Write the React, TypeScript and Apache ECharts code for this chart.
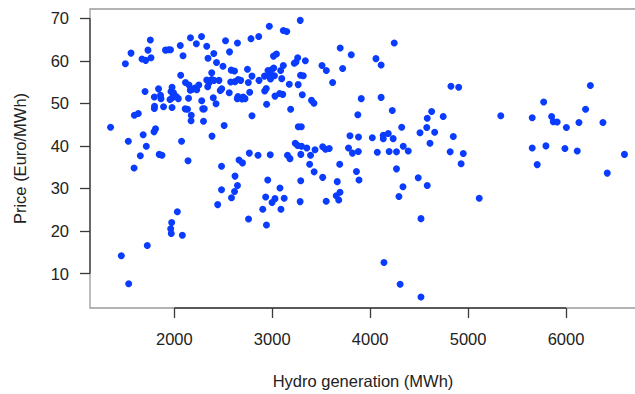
import React, { useEffect, useRef } from "react";
import * as echarts from "echarts";

// Hydro generation (MWh) and price (Euro/MWh), paired by index
const hydro: number[] = [
  1349, 1500, 1558, 1530, 1592, 1632, 1589, 1653, 1682, 1714, 1701, 1670, 1708, 1731, 1755, 1762,
  1796, 1798, 1796, 1839, 1859, 1864, 1890, 1808, 1793, 1846, 1874, 1910, 1941, 1961, 1977, 1966,
  1992, 1956, 1979, 2020, 2041, 1977, 2074, 2089, 2061, 2065, 2140, 2165, 2225, 2278, 2331, 2403,
  2344, 2431, 2497, 2523, 2564, 2114, 2150, 2145, 2184, 2211, 2229, 2163, 2250, 2280, 2290, 2306,
  2298, 2111, 2135, 2173, 2171, 2331, 2354, 2341, 2382, 2405, 2456, 2382, 2469, 2484, 2398, 2426,
  2509, 2385, 2561, 2581, 2620, 2576, 2482,
  2970, 3286, 3113, 3148, 2645, 2783, 2862, 3013, 3043, 3260, 3243, 3225, 3338, 3694, 3807, 3508,
  3552, 3719, 3617, 3909, 3874, 3113, 2615, 2747, 2957, 2994, 3015, 2980, 3086, 2793, 2865, 2921,
  2972, 3023, 2982, 3097, 3174, 3265, 3289, 3317, 2653, 2678, 2756, 2770, 2650, 2704, 2643, 2691,
  2722, 2923, 2939, 3028, 3076, 3107, 3307, 2943, 3401, 3426, 3188, 2793, 3266, 3297, 3794, 3881,
  3235, 3260, 3299, 3353, 3391, 3437, 3515, 3544, 3582, 3779, 3819, 3879, 3156, 3181, 3292, 2766,
  2855, 2980, 2661, 2696, 3382, 3428, 3689,
  4246, 4059, 4112, 4825, 4904, 4112, 4226, 4628, 4583, 4746, 5334, 4322, 4578, 4509, 4659, 4022,
  4134, 4185, 4235, 4134, 4849, 4611, 4338, 4389, 4073, 4194, 4269, 4817, 4951, 4929,
  6249, 5772, 6200, 5655, 5853, 5870, 5910, 6004, 6132, 6377, 5655, 5795, 5989, 6115, 6597, 5706,
  6421,
  2620, 2645, 2615, 2584, 2482, 2443, 2031, 1973, 1963, 1969, 2082, 1724, 1459, 1534, 2758, 2933,
  2903, 2941, 2954, 3079, 2998, 3028, 3122, 3089, 3285, 3291, 3515, 3664, 3860, 3886, 3551, 3654,
  3692, 3679, 4269, 4491, 4335, 4583, 4294, 5114, 4519, 4141, 4306, 4519,
];

const price: number[] = [
  44.4, 59.3, 61.8, 41.1, 47.2, 47.6, 34.8, 37.7, 42.6, 39.9, 52.8, 60.4, 60.1, 62.5, 64.9, 60.7,
  51.5, 49.3, 48.8, 53.4, 51.9, 51.1, 49.2, 44.0, 43.3, 38.0, 37.8, 62.5, 62.6, 62.6, 53.8, 52.8,
  52.5, 50.9, 51.3, 51.6, 51.1, 49.0, 41.1, 61.2, 63.6, 56.6, 36.5, 65.4, 64.0, 65.7, 63.4, 61.7,
  60.6, 59.6, 58.7, 64.7, 62.1, 54.9, 54.3, 51.2, 53.3, 53.6, 53.2, 53.1, 54.3, 50.6, 48.7, 48.7,
  45.8, 48.7, 48.6, 47.2, 45.9, 55.5, 54.8, 53.9, 55.6, 55.4, 55.4, 57.2, 53.0, 53.4, 51.3, 49.9,
  44.8, 42.3, 52.5, 57.8, 55.1, 55.0, 35.2,
  68.1, 69.5, 67.1, 66.9, 64.2, 65.2, 65.7, 61.1, 61.6, 60.7, 59.7, 59.4, 60.0, 63.0, 61.4, 58.9,
  57.7, 58.2, 54.9, 51.1, 47.3, 58.9, 57.6, 58.0, 57.7, 57.9, 58.3, 57.0, 57.7, 56.4, 55.4, 56.4,
  56.3, 56.5, 55.7, 55.8, 54.5, 54.4, 56.6, 56.5, 55.6, 55.4, 54.9, 52.6, 51.6, 51.5, 51.1, 51.0,
  51.1, 52.9, 53.5, 51.7, 52.3, 52.1, 52.0, 49.8, 50.7, 50.0, 48.6, 47.1, 44.5, 44.5, 42.4, 42.1,
  40.6, 40.1, 39.9, 39.5, 37.8, 39.1, 39.8, 39.2, 39.4, 39.5, 38.3, 38.7, 37.8, 37.0, 38.0, 38.3,
  37.8, 37.9, 36.7, 36.0, 35.7, 33.9, 35.7,
  64.2, 60.5, 59.0, 54.0, 53.8, 51.4, 48.3, 48.1, 46.5, 46.9, 47.1, 44.4, 44.3, 43.1, 43.2, 41.9,
  42.5, 42.9, 41.7, 41.7, 42.2, 40.6, 39.9, 38.8, 38.5, 38.7, 38.6, 38.6, 38.2, 35.8,
  54.2, 50.3, 48.6, 46.6, 46.9, 45.7, 45.6, 44.3, 45.5, 45.5, 39.5, 40.0, 39.4, 38.8, 38.0, 35.6,
  33.6,
  32.9, 30.7, 29.3, 27.8, 29.7, 26.2, 24.5, 22.0, 20.5, 19.4, 19.0, 16.6, 14.2, 7.6, 22.8, 28.0,
  25.1, 21.4, 32.0, 30.1, 26.7, 27.6, 27.7, 25.1, 26.9, 31.8, 32.6, 31.6, 34.0, 32.0, 27.0, 28.3,
  29.1, 27.3, 34.6, 32.5, 30.4, 30.7, 28.1, 27.7, 22.9, 12.6, 7.5, 4.5,
];

const xTicks: number[] = [2000, 3000, 4000, 5000, 6000];
const yTicks: number[] = [10, 20, 30, 40, 50, 60, 70];
const xRange: number[] = [1139, 6817];
const yRange: number[] = [1.9, 72.17];

const FONT = "'Liberation Sans', Arial, Helvetica, sans-serif";

export default function App() {
  const ref = useRef<HTMLDivElement>(null);

  useEffect(() => {
    if (!ref.current) return;
    const chart = echarts.init(ref.current, undefined, { renderer: "svg" });
    const points = hydro.map((h, i) => [h, price[i]]);
    const dark = "#3a3a3a";
    const text = "#222";

    chart.setOption({
      animation: false,
      backgroundColor: "#ffffff",
      grid: {
        left: 90,
        top: 9,
        right: 14,
        bottom: 84,
        show: true,
        borderColor: "#9a9a9a",
        borderWidth: 1.3,
      },
      xAxis: {
        type: "value",
        min: xRange[0],
        max: xRange[1],
        name: "Hydro generation (MWh)",
        nameLocation: "middle",
        nameGap: 64,
        nameTextStyle: { fontSize: 16.5, color: text, fontFamily: FONT, padding: [0, 10, 0, 0] },
        axisLine: { show: false },
        splitLine: { show: false },
        axisTick: {
          show: true,
          customValues: xTicks,
          length: 10,
          lineStyle: { color: dark, width: 1.3 },
        },
        axisLabel: {
          customValues: xTicks,
          margin: 22,
          fontSize: 16.5,
          color: text,
          fontFamily: FONT,
          formatter: (v: number) => String(v),
        },
      },
      yAxis: {
        type: "value",
        min: yRange[0],
        max: yRange[1],
        name: "Price (Euro/MWh)",
        nameLocation: "middle",
        nameGap: 62,
        nameRotate: 90,
        nameTextStyle: { fontSize: 16.5, color: text, fontFamily: FONT },
        axisLine: { show: false },
        splitLine: { show: false },
        axisTick: {
          show: true,
          customValues: yTicks,
          length: 10,
          lineStyle: { color: dark, width: 1.3 },
        },
        axisLabel: {
          customValues: yTicks,
          margin: 21,
          fontSize: 16.5,
          color: text,
          fontFamily: FONT,
          formatter: (v: number) => String(v),
        },
      },
      series: [
        {
          type: "line",
          data: [
            [xTicks[0], yRange[0]],
            [xTicks[xTicks.length - 1], yRange[0]],
          ],
          symbol: "none",
          clip: false,
          silent: true,
          lineStyle: { color: dark, width: 1.3 },
          z: 3,
        },
        {
          type: "line",
          data: [
            [xRange[0], yTicks[0]],
            [xRange[0], yTicks[yTicks.length - 1]],
          ],
          symbol: "none",
          clip: false,
          silent: true,
          lineStyle: { color: dark, width: 1.3 },
          z: 3,
        },
        {
          type: "scatter",
          data: points,
          symbol: "circle",
          symbolSize: 7,
          itemStyle: { color: "#0a3cff", opacity: 1 },
          z: 4,
        },
      ],
    });

    return () => chart.dispose();
  }, []);

  return (
    <div style={{ position: "fixed", left: 0, top: 0, width: 635, height: 394, overflow: "hidden" }}>
      <div ref={ref} style={{ width: 660, height: 394 }} />
    </div>
  );
}
